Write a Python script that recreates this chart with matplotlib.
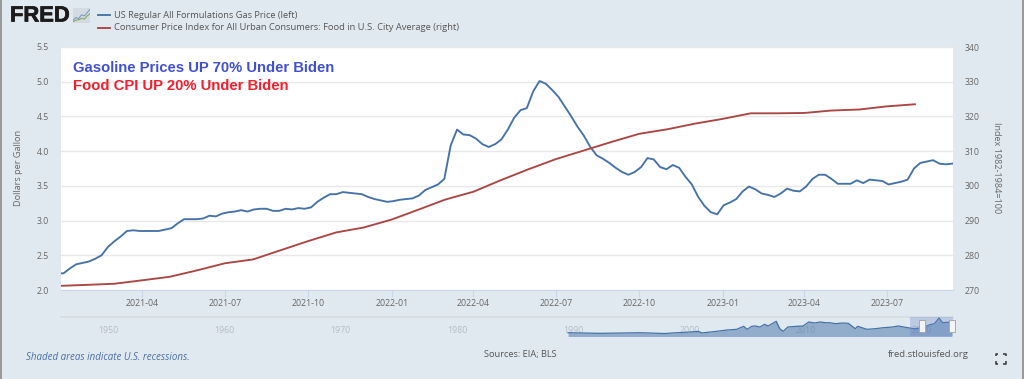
import pandas as pd
import matplotlib
matplotlib.use('Agg')
import matplotlib.pyplot as plt
import matplotlib.patheffects as pe
from matplotlib.lines import Line2D
from matplotlib.patches import Rectangle

# data set-up

gas_prices = [2.24, 2.24, 2.31, 2.37, 2.39, 2.41, 2.45, 2.50, 2.62, 2.70, 2.77, 2.85, 2.86, 2.85, 2.85, 2.85, 2.85,
              2.87, 2.89, 2.96, 3.02, 3.02, 3.02, 3.03, 3.07, 3.06, 3.10, 3.12, 3.13, 3.15, 3.13, 3.16, 3.17, 3.17,
              3.14, 3.14, 3.17, 3.16, 3.18, 3.17, 3.19, 3.27, 3.33, 3.38, 3.38, 3.41, 3.40, 3.39, 3.38, 3.34, 3.31,
              3.29, 3.27, 3.28, 3.30, 3.31, 3.32, 3.36, 3.44, 3.48, 3.52, 3.60, 4.08, 4.31, 4.24, 4.23, 4.18, 4.10,
              4.06, 4.10, 4.17, 4.31, 4.48, 4.59, 4.62, 4.86, 5.01, 4.97, 4.88, 4.78, 4.64, 4.50, 4.35, 4.22, 4.06,
              3.94, 3.89, 3.83, 3.76, 3.70, 3.66, 3.70, 3.77, 3.90, 3.88, 3.77, 3.74, 3.80, 3.76, 3.63, 3.52, 3.34,
              3.21, 3.12, 3.09, 3.22, 3.26, 3.31, 3.42, 3.49, 3.45, 3.39, 3.37, 3.34, 3.39, 3.46, 3.43, 3.42, 3.49,
              3.60, 3.66, 3.66, 3.60, 3.53, 3.53, 3.53, 3.58, 3.54, 3.59, 3.58, 3.57, 3.52, 3.54, 3.56, 3.59, 3.75,
              3.83, 3.85, 3.87, 3.82, 3.81, 3.82]
gas_dates = pd.date_range('2020-12-28', periods=len(gas_prices), freq='7D')

food_cpi = [271.2, 271.5, 271.8, 272.8, 273.8, 275.7, 277.7, 278.8, 281.5, 284.1, 286.6, 288.0,
            290.3, 293.3, 296.05, 298.3, 301.6, 304.8, 307.7, 310.2, 312.7, 315.0, 316.3, 317.9,
            319.3, 320.9, 320.9, 321.0, 321.7, 322.0, 322.9, 323.5]
food_dates = pd.date_range('2021-01-01', periods=len(food_cpi), freq='MS')

tick_months = ['2021-04', '2021-07', '2021-10', '2022-01', '2022-04', '2022-07', '2022-10', '2023-01', '2023-04', '2023-07']
left_ticks = [2.0, 2.5, 3.0, 3.5, 4.0, 4.5, 5.0, 5.5]
right_ticks = [270, 280, 290, 300, 310, 320, 330, 340]

nav_years = [1990.6, 1993.3, 1996.8, 1998.9, 1999.6, 2001.1, 2001.8, 2002.1, 2003.4, 2004.3, 2005.1, 2005.7, 2006.0,
             2006.4, 2006.7, 2007.1, 2007.5, 2007.8, 2008.5, 2008.8, 2009.1, 2009.5, 2010.3, 2010.8, 2011.3, 2011.8,
             2012.3, 2012.7, 2013.1, 2013.6, 2014.2, 2014.7, 2015.3, 2015.5, 2016.3, 2017.0, 2017.7, 2018.5, 2019.0,
             2019.8, 2020.4, 2021.1, 2021.7, 2022.1, 2022.5, 2022.8, 2023.6]
nav_values = [1.07, 0.90, 1.07, 0.85, 1.00, 1.26, 1.45, 1.00, 1.45, 1.80, 1.98, 2.79, 1.98,
              2.79, 2.87, 2.60, 3.32, 2.87, 4.13, 2.14, 1.45, 2.60, 2.79, 2.87, 3.94, 3.67,
              3.94, 3.75, 3.75, 3.49, 3.67, 3.59, 2.14, 2.79, 1.98, 2.14, 2.41, 2.60, 2.87,
              2.41, 2.14, 2.41, 3.20, 3.49, 5.01, 3.75, 3.94]
nav_labels = [1950, 1960, 1970, 1980, 1990, 2000, 2010, 2020]

# colors and layout

BG = '#e1e9f0'
BLUE = '#4572a7'
RED = '#aa4643'
GRID = '#e8e8e8'
AXIS = '#ccd6eb'
TICK = '#666666'
W, H = 1024, 379

plt.rcParams['font.family'] = ['Open Sans', 'DejaVu Sans']

def box(x0, y0, x1, y1):
    "pixel box (y from the top) to a figure rectangle"
    return [x0 / W, 1 - y1 / H, (x1 - x0) / W, (y1 - y0) / H]

def label(x, y, s, **kw):
    "figure text at a pixel position"
    return fig.text(x / W, 1 - y / H, s, **kw)

fig = plt.figure(figsize=(W / 100, H / 100), dpi=100, facecolor=BG)

# main chart

ax = fig.add_axes(box(61, 47, 953, 290))
ax.set_facecolor('white')
ax.plot(gas_dates, gas_prices, color=BLUE, linewidth=1.35, zorder=3)
ax.set_ylim(2.0, 5.5)
ax.set_xlim(pd.Timestamp('2021-01-01 06:00'), pd.Timestamp('2023-09-12'))
ax.set_yticks(left_ticks)
ax.set_yticklabels(['%.1f' % t for t in left_ticks])
ax.set_xticks(pd.to_datetime(tick_months))
ax.set_xticklabels(tick_months)
ax.grid(axis='y', color=GRID, linewidth=1.0)
ax.set_axisbelow(True)
ax.tick_params(axis='x', length=5, width=0.8, color=AXIS, labelcolor=TICK, labelsize=6.3, pad=1.5)
ax.tick_params(axis='y', length=0, labelcolor=TICK, labelsize=6.3, pad=8.5)
for s in ['top', 'left', 'right']:
    ax.spines[s].set_visible(False)
ax.spines['bottom'].set_color(AXIS)
ax.spines['bottom'].set_linewidth(0.8)

ax2 = ax.twinx()
ax2.plot(food_dates, food_cpi, color=RED, linewidth=1.35, zorder=3)
ax2.set_ylim(270, 340)
ax2.set_yticks(right_ticks)
ax2.tick_params(axis='y', length=0, labelcolor=TICK, labelsize=6.3, pad=8.5)
for s in ax2.spines.values():
    s.set_visible(False)

# titles inside the chart

label(73, 67.7, 'Gasoline Prices UP 70% Under Biden', family='Liberation Sans', fontweight='bold',
      fontsize=10.7, color='#4150d0', va='center')
label(73, 85.7, 'Food CPI UP 20% Under Biden', family='Liberation Sans', fontweight='bold',
      fontsize=10.7, color='#f0202e', va='center')

# axis titles

label(19, 168, 'Dollars per Gallon', rotation=90, fontsize=6.6, color=TICK, ha='center', va='center')
label(997, 168, 'Index 1982-1984=100', rotation=-90, fontsize=6.5, color=TICK, ha='center', va='center')

# legend and logo

fig.add_artist(Line2D([98 / W, 110 / W], [1 - 15 / H] * 2, color=BLUE, linewidth=1.35))
fig.add_artist(Line2D([98 / W, 110 / W], [1 - 28 / H] * 2, color=RED, linewidth=1.35))
label(114, 15.5, 'US Regular All Formulations Gas Price (left)', fontsize=6.7, color='#555555', va='center')
label(114, 28, 'Consumer Price Index for All Urban Consumers: Food in U.S. City Average (right)',
      fontsize=6.73, color='#555555', va='center')
label(10, 16, 'FRED', family='Liberation Sans', fontweight='bold', fontsize=15.8, color='#1d1a1b', va='center',
      path_effects=[pe.withStroke(linewidth=0.5, foreground='#1d1a1b')])

icon = fig.add_axes(box(73, 8, 90, 23))
icon.set_facecolor('#d4dae2')
icon.plot([0, 1, 2, 3, 4, 5, 6], [1, 2, 1.6, 3, 2.6, 3.8, 5], color='#7f9cc0', linewidth=0.8)
icon.plot([0, 1, 2, 3, 4, 5, 6], [0.5, 1, 1.2, 1.7, 1.4, 2.6, 3.4], color='#8aa86a', linewidth=0.8)
icon.set_xlim(0, 6)
icon.set_ylim(0, 5.5)
icon.set_xticks([])
icon.set_yticks([])
for s in icon.spines.values():
    s.set_visible(False)

# range navigator

nav = fig.add_axes(box(61, 317, 953, 336))
nav.set_facecolor(BG)
nav.set_xlim(1947, 2023.7)
nav.set_ylim(0.19, 5.28)
nav.fill_between(nav_years, nav_values, 0, color=BLUE, alpha=0.5, linewidth=0, zorder=3)
nav.plot(nav_years, nav_values, color=BLUE, linewidth=0.9, zorder=4)
nav.axvspan(2020.0, 2023.7, color='#6685c2', alpha=0.3, linewidth=0, zorder=5)
for yr in nav_labels:
    nav.annotate(str(yr), xy=(yr, 0), xycoords=('data', 'axes fraction'), xytext=(1.5, 3.8),
                 textcoords='offset points', fontsize=6.3, color='#b4bbc4', va='center', zorder=2)
nav.set_xticks([])
nav.set_yticks([])
for s in ['left', 'right', 'bottom']:
    nav.spines[s].set_visible(False)
nav.spines['top'].set_color('#d6dde3')
nav.spines['top'].set_linewidth(1.4)

for hx in [922, 952]:
    fig.add_artist(Rectangle(((hx - 3) / W, 1 - 332 / H), 6 / W, 12 / H, facecolor='#f4f4f4',
                             edgecolor='#a8a8a8', linewidth=0.7))

# footer

label(26, 358, 'Shaded areas indicate U.S. recessions.', fontsize=7.0, style='italic', color='#4a6fa5', va='center')
label(484, 355, 'Sources: EIA; BLS', fontsize=6.7, color='#555555', va='center')
label(888, 354.5, 'fred.stlouisfed.org', fontsize=6.8, color='#555555', va='center')

# fullscreen icon
for cx, cy, dx, dy in [(995.5, 353.5, 1, 1), (1005.5, 353.5, -1, 1), (995.5, 363.5, 1, -1), (1005.5, 363.5, -1, -1)]:
    fig.add_artist(Line2D([(cx + 2.5 * dx) / W, cx / W, cx / W], [1 - cy / H, 1 - cy / H, 1 - (cy + 2.5 * dy) / H],
                          color='#333333', linewidth=1.1, solid_capstyle='butt'))

# window edges
fig.add_artist(Rectangle((0, 0), 2 / W, 1, facecolor='#9a9a9a', edgecolor='none'))
fig.add_artist(Rectangle((1022 / W, 0), 2 / W, 1, facecolor='#9a9a9a', edgecolor='none'))

fig.savefig('out.png', dpi=100, facecolor=BG)
